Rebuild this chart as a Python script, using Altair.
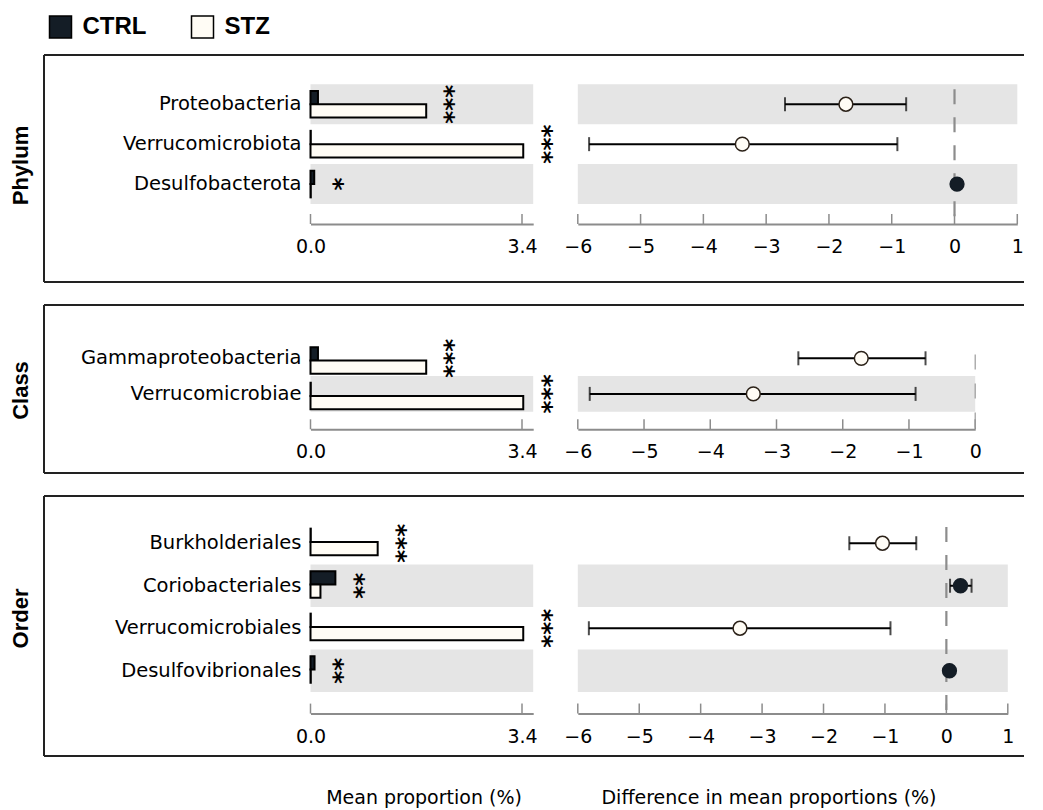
import altair as alt
import pandas as pd

# ---------------- data ----------------
groups = ["CTRL", "STZ"]

phylum_names = ["Proteobacteria", "Verrucomicrobiota", "Desulfobacterota"]
phylum_ctrl = [0.12, 0.005, 0.06]
phylum_stz = [1.86, 3.42, 0.005]
phylum_diff = [-1.73, -3.38, 0.04]
phylum_lo = [-2.70, -5.82, 0.02]
phylum_hi = [-0.77, -0.91, 0.07]
phylum_sig = ["***", "***", "*"]

class_names = ["Gammaproteobacteria", "Verrucomicrobiae"]
class_ctrl = [0.12, 0.005]
class_stz = [1.86, 3.42]
class_diff = [-1.72, -3.35]
class_lo = [-2.67, -5.82]
class_hi = [-0.75, -0.90]
class_sig = ["***", "***"]

order_names = ["Burkholderiales", "Coriobacteriales", "Verrucomicrobiales", "Desulfovibrionales"]
order_ctrl = [0.005, 0.40, 0.005, 0.065]
order_stz = [1.08, 0.16, 3.42, 0.005]
order_diff = [-1.04, 0.23, -3.36, 0.05]
order_lo = [-1.58, 0.06, -5.82, 0.03]
order_hi = [-0.49, 0.41, -0.91, 0.07]
order_sig = ["***", "**", "***", "**"]

bar_ticks = [0.0, 3.4]
bar_max = 3.58
diff_ticks_full = [-6, -5, -4, -3, -2, -1, 0, 1]
diff_ticks_class = [-6, -5, -4, -3, -2, -1, 0]

# ---------------- styling / layout ----------------
W = 980
DARK = "#141d26"
LIGHT = "#fffcf5"
BAND = "#e5e5e5"
AXIS_GREY = "#8c8c8c"
BAR_RANGE = [266.5, 489.2]
DIFF_LEFT = 533.8
FONT = "DejaVu Sans"


def panel(level, names, ctrl, stz, diff, lo, hi, sig, H, y0, y1, axis_y,
          diff_max, diff_right, diff_ticks, thin_zero, legend, xtitles, title_y):
    n = len(names)
    rows = pd.DataFrame({
        "name": names, "diff": diff, "lo": lo, "hi": hi, "sig": sig,
        "top": [max(c, s) for c, s in zip(ctrl, stz)],
        "band": [(n - 1 - i) % 2 == 0 for i in range(n)],
    })
    bars = pd.DataFrame({
        "name": names * 2,
        "group": ["CTRL"] * n + ["STZ"] * n,
        "value": ctrl + stz,
    })
    one = pd.DataFrame({"k": [0]})

    yenc = alt.Y("name:N", sort=names,
                 scale=alt.Scale(domain=names, range=[y0, y1], paddingInner=0, paddingOuter=0),
                 axis=alt.Axis(title=level, labels=False, ticks=False, domain=False, grid=False,
                               titleX=-24, titleY=title_y, titleAngle=270, titleAlign="center",
                               titleBaseline="middle", titleFont="Liberation Sans",
                               titleFontSize=22, titleFontWeight="bold", titleColor="black"))

    common_axis = dict(orient="bottom", offset=axis_y - H, ticks=False, grid=False,
                       domainColor=AXIS_GREY, domainWidth=2, labelFont=FONT, labelFontSize=19,
                       labelColor="black", labelPadding=13.5, labelFlush=False, labelOverlap=False)
    if xtitles:
        ab = alt.Axis(values=bar_ticks, format=".1f", title="Mean proportion (%)",
                      titleX=379.5, titleY=90, titleAlign="center", titleBaseline="alphabetic",
                      titleFont=FONT, titleFontSize=19, titleFontWeight="normal",
                      titleColor="black", **common_axis)
        ad = alt.Axis(values=diff_ticks, format="d", title="Difference in mean proportions (%)",
                      titleX=724.5, titleY=90, titleAlign="center", titleBaseline="alphabetic",
                      titleFont=FONT, titleFontSize=19, titleFontWeight="normal",
                      titleColor="black", **common_axis)
    else:
        ab = alt.Axis(values=bar_ticks, format=".1f", title=None, **common_axis)
        ad = alt.Axis(values=diff_ticks, format="d", title=None, **common_axis)

    sb = alt.Scale(domain=[0, bar_max], range=BAR_RANGE, nice=False, zero=False)
    sd = alt.Scale(domain=[-6, diff_max], range=[DIFF_LEFT, diff_right], nice=False, zero=False)

    def xb(field=None, datum=None):
        if field is not None:
            return alt.X(field, type="quantitative", scale=sb, axis=ab, stack=None)
        return alt.X(datum=datum, type="quantitative", scale=sb, axis=ab)

    def xd(field=None, datum=None):
        if field is not None:
            return alt.X(field, type="quantitative", scale=sd, axis=ad)
        return alt.X(datum=datum, type="quantitative", scale=sd, axis=ad)

    # ---- left: mean proportion bars ----
    l_bands = alt.Chart(rows).transform_filter("datum.band").mark_rect(color=BAND).encode(
        x=xb(datum=0), x2=alt.X2(datum=bar_max), y=yenc)
    l_ticks = alt.Chart(pd.DataFrame({"t": bar_ticks})).mark_rule(
        color=AXIS_GREY, strokeWidth=1.5).encode(
        x=xb("t"), y=alt.value(axis_y - 10), y2=alt.value(axis_y))
    l_bars = alt.Chart(bars).mark_bar(stroke="black", strokeWidth=2).encode(
        x=xb("value"), y=yenc,
        yOffset=alt.YOffset("group:N", sort=groups,
                            scale=alt.Scale(domain=groups, paddingInner=0, paddingOuter=0.5)),
        fill=alt.Fill("group:N", scale=alt.Scale(domain=groups, range=[DARK, LIGHT]),
                      legend=legend))
    l_labels = alt.Chart(rows).mark_text(align="right", baseline="middle", dx=-9,
                                          fontSize=19.5, font=FONT, color="black").encode(
        x=xb(datum=0), y=yenc, text="name:N")
    l_stars = alt.Chart(rows).transform_calculate(sx="datum.top + 0.31").mark_text(
        angle=90, align="center", baseline="middle", fontSize=25, font=FONT,
        fontWeight="bold", color="black").encode(x=xb("sx"), y=yenc, text="sig:N")
    left = alt.layer(l_bands, l_ticks, l_bars, l_labels, l_stars)

    # ---- right: difference with CI ----
    r_bands = alt.Chart(rows).transform_filter("datum.band").mark_rect(color=BAND).encode(
        x=xd(datum=-6), x2=alt.X2(datum=diff_max), y=yenc)
    r_ticks = alt.Chart(pd.DataFrame({"t": diff_ticks})).mark_rule(
        color=AXIS_GREY, strokeWidth=1.5).encode(
        x=xd("t"), y=alt.value(axis_y - 10), y2=alt.value(axis_y))
    if thin_zero:
        r_zero = alt.Chart(one).mark_rule(color="#9a9a9a", strokeWidth=1.2,
                                          strokeDash=[15, 14], strokeDashOffset=15).encode(
            x=xd(datum=0), y=alt.value(y0), y2=alt.value(axis_y))
    else:
        r_zero = alt.Chart(one).mark_rule(color=AXIS_GREY, strokeWidth=2.2,
                                          strokeDash=[15, 13]).encode(
            x=xd(datum=0), y=alt.value(y0 + 5), y2=alt.value(axis_y))
    r_err = alt.Chart(rows).mark_rule(color="black", strokeWidth=2).encode(
        x=xd("lo"), x2=alt.X2("hi"), y=yenc)
    r_cap_lo = alt.Chart(rows).mark_tick(orient="vertical", size=14, thickness=2,
                                         color="black").encode(x=xd("lo"), y=yenc)
    r_cap_hi = alt.Chart(rows).mark_tick(orient="vertical", size=14, thickness=2,
                                         color="black").encode(x=xd("hi"), y=yenc)
    r_pts = alt.Chart(rows).mark_circle(size=190, opacity=1, strokeWidth=1.5).encode(
        x=xd("diff"), y=yenc,
        fill=alt.condition("datum.diff > 0", alt.value(DARK), alt.value(LIGHT)),
        stroke=alt.condition("datum.diff > 0", alt.value(DARK), alt.value("#2b2118")))
    right = alt.layer(r_bands, r_ticks, r_zero, r_err, r_cap_lo, r_cap_hi, r_pts)

    # ---- frame (top, bottom, left) ----
    frame = alt.Chart(one).mark_rule(color="#222222", strokeWidth=2)
    f_top = frame.encode(x=alt.value(0), x2=alt.value(W), y=alt.value(0))
    f_bot = frame.encode(x=alt.value(0), x2=alt.value(W), y=alt.value(H))
    f_left = frame.encode(x=alt.value(0), y=alt.value(0), y2=alt.value(H))

    return alt.layer(left, right, f_top, f_bot, f_left).resolve_scale(
        x="independent").properties(width=W, height=H)


legend_top = alt.Legend(orient="none", legendX=4.5, legendY=-40, direction="horizontal",
                        title=None, symbolType="square", symbolSize=484,
                        symbolStrokeColor="black", symbolStrokeWidth=1.5, symbolOpacity=1,
                        labelFont="Liberation Sans", labelFontSize=24, labelFontWeight="bold",
                        labelColor="black", labelOffset=10, columnPadding=42, padding=0)

p_phylum = panel("Phylum", phylum_names, phylum_ctrl, phylum_stz, phylum_diff, phylum_lo,
                 phylum_hi, phylum_sig, H=227, y0=29.3, y1=149, axis_y=169,
                 diff_max=1, diff_right=973.3, diff_ticks=diff_ticks_full, thin_zero=False,
                 legend=legend_top, xtitles=False, title_y=110)
p_class = panel("Class", class_names, class_ctrl, class_stz, class_diff, class_lo,
                class_hi, class_sig, H=168, y0=35.5, y1=106.7, axis_y=124.3,
                diff_max=0, diff_right=931.2, diff_ticks=diff_ticks_class, thin_zero=True,
                legend=None, xtitles=False, title_y=85)
p_order = panel("Order", order_names, order_ctrl, order_stz, order_diff, order_lo,
                order_hi, order_sig, H=260, y0=26, y1=196, axis_y=217.6,
                diff_max=1, diff_right=963.8, diff_ticks=diff_ticks_full, thin_zero=False,
                legend=None, xtitles=True, title_y=122)

chart = alt.vconcat(p_phylum, p_class, p_order, spacing=21).resolve_scale(
    fill="independent").properties(
    padding={"left": 1, "top": 7, "right": 0, "bottom": 0}, background="white"
).configure_view(stroke=None)

chart.save("out.html", embed_options={"renderer": "svg", "actions": False})
